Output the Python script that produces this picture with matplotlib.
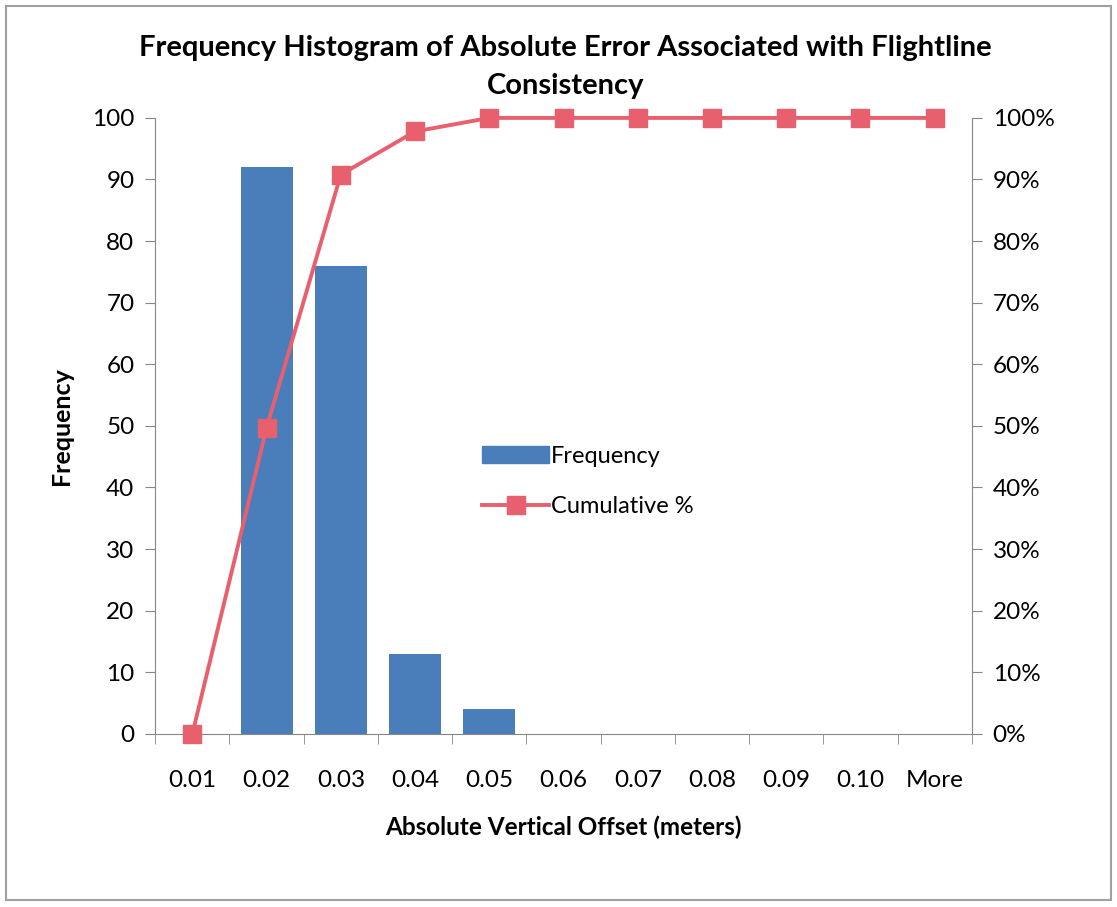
import matplotlib.pyplot as plt
from matplotlib.ticker import FuncFormatter, MultipleLocator
from matplotlib.lines import Line2D
from matplotlib.patches import Patch, Rectangle

bins = ['0.01', '0.02', '0.03', '0.04', '0.05', '0.06', '0.07', '0.08', '0.09', '0.10', 'More']
frequency = [0, 92, 76, 13, 4, 0, 0, 0, 0, 0, 0]
cumulative = [0.0, 0.497, 0.908, 0.978, 1.0, 1.0, 1.0, 1.0, 1.0, 1.0, 1.0]

plt.rcParams['font.family'] = ['Lato', 'DejaVu Sans']
bar_color = '#4a7ebb'
line_color = '#e8606e'
axis_color = '#868686'
tick_size = 17.5

fig = plt.figure(figsize=(11.17, 9.07), dpi=100)
fig.patches.append(Rectangle((0.005, 0.008), 0.99, 0.985, transform=fig.transFigure,
                             fill=False, edgecolor='#a0a0a0', linewidth=1.5))
ax = fig.add_axes([0.139, 0.191, 0.731, 0.679])
x = list(range(len(bins)))
ax.bar(x, frequency, width=0.7, color=bar_color, zorder=2)
ax.set_xlim(-0.5, len(bins) - 0.5)
ax.set_ylim(0, 100)
ax.yaxis.set_major_locator(MultipleLocator(10))
ax.set_xticks(x)
ax.set_xticklabels(bins)
ax.set_xticks([i - 0.5 for i in range(len(bins) + 1)], minor=True)
ax.tick_params(axis='x', which='major', length=0, pad=26, labelsize=tick_size)
ax.tick_params(axis='x', which='minor', length=7, color=axis_color, direction='out')
ax.tick_params(axis='y', length=7, color=axis_color, labelsize=tick_size, pad=8)
for s in ['top', 'right']:
    ax.spines[s].set_visible(False)
for s in ['left', 'bottom']:
    ax.spines[s].set_color(axis_color)
ax.set_ylabel('Frequency', fontsize=18, fontweight='bold', labelpad=14)
ax.set_xlabel('Absolute Vertical Offset (meters)', fontsize=17.5, fontweight='bold', labelpad=18)

ax2 = ax.twinx()
ax2.plot(x, cumulative, color=line_color, linewidth=2.8, marker='s', markersize=13,
         markerfacecolor=line_color, markeredgecolor=line_color, zorder=3, clip_on=False)
ax2.set_ylim(0, 1)
ax2.yaxis.set_major_locator(MultipleLocator(0.1))
ax2.yaxis.set_major_formatter(FuncFormatter(lambda v, p: '{:.0f}%'.format(v * 100)))
ax2.tick_params(axis='y', length=7, color=axis_color, labelsize=tick_size, pad=8)
for s in ['top', 'left', 'bottom']:
    ax2.spines[s].set_visible(False)
ax2.spines['right'].set_color(axis_color)

fig.text(0.506, 0.947, 'Frequency Histogram of Absolute Error Associated with Flightline',
         ha='center', va='center', fontsize=21, fontweight='bold')
fig.text(0.506, 0.905, 'Consistency', ha='center', va='center', fontsize=21, fontweight='bold')

handles = [Patch(color=bar_color, label='Frequency'),
           Line2D([], [], color=line_color, linewidth=2.8, marker='s', markersize=13, label='Cumulative %')]
ax2.legend(handles=handles, loc='center', bbox_to_anchor=(0.53, 0.41), frameon=False,
           fontsize=17, handlelength=2.8, handletextpad=0.1, labelspacing=1.25)

fig.savefig('out.png', dpi=100)
